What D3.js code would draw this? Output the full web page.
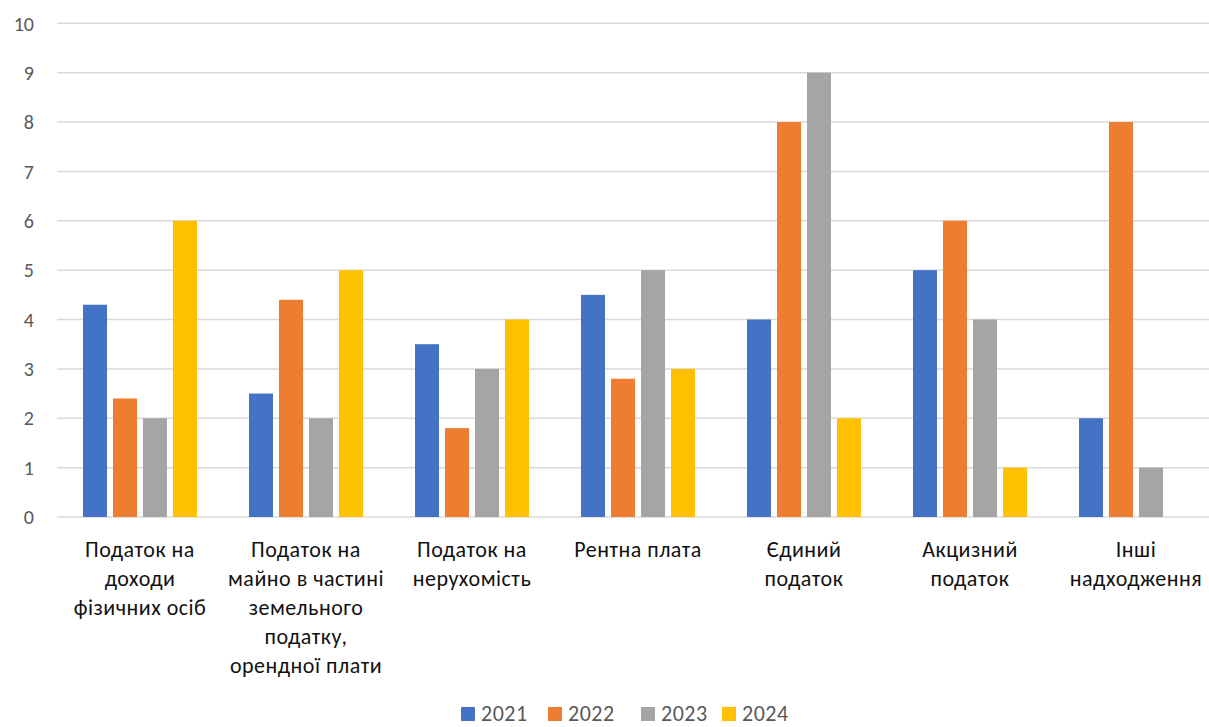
<!DOCTYPE html>
<html>
<head>
<meta charset="utf-8">
<script src="https://cdn.jsdelivr.net/npm/d3@7"></script>
<style>
  html, body { margin: 0; padding: 0; background: #fff; }
  svg { display: block; font-family: Carlito, Lato, "Liberation Sans", sans-serif; }
</style>
</head>
<body>
<svg id="chart" width="1209" height="727"></svg>
<script>
const categories = [
  "Податок на\nдоходи\nфізичних осіб",
  "Податок на\nмайно в частині\nземельного\nподатку,\nорендної плати",
  "Податок на\nнерухомість",
  "Рентна плата",
  "Єдиний\nподаток",
  "Акцизний\nподаток",
  "Інші\nнадходження"
];
const seriesNames = ["2021", "2022", "2023", "2024"];
const values2021 = [4.3, 2.5, 3.5, 4.5, 4, 5, 2];
const values2022 = [2.4, 4.4, 1.8, 2.8, 8, 6, 8];
const values2023 = [2, 2, 3, 5, 9, 4, 1];
const values2024 = [6, 5, 4, 3, 2, 1, 0];
const seriesValues = [values2021, values2022, values2023, values2024];
const colors = ["#4472C4", "#ED7D31", "#A5A5A5", "#FFC000"];
const yTicks = [0, 1, 2, 3, 4, 5, 6, 7, 8, 9, 10];

(function () {
const svg = d3.select("#chart");
const plotLeft = 57, plotRight = 1219, plotTop = 23.3, plotBottom = 517;

const x0 = d3.scaleBand().domain(d3.range(categories.length)).range([plotLeft, plotRight]).padding(0);
const x1 = d3.scaleBand().domain(seriesNames).range([26, 140]).paddingInner(0.2).paddingOuter(0);
const y = d3.scaleLinear().domain([0, 10]).range([plotBottom, plotTop]);

// gridlines
svg.append("g").selectAll("line").data(yTicks).join("line")
  .attr("x1", plotLeft).attr("x2", plotRight)
  .attr("y1", d => y(d)).attr("y2", d => y(d))
  .attr("stroke", "#D9D9D9").attr("stroke-width", 1.5);

// y tick labels
svg.append("g").selectAll("text").data(yTicks).join("text")
  .attr("x", 34).attr("y", d => y(d)).attr("dy", "0.36em")
  .attr("text-anchor", "end")
  .attr("fill", "#595959").attr("font-size", 20)
  .text(d => d);

// bars
const groups = svg.append("g").selectAll("g").data(categories).join("g")
  .attr("transform", (d, i) => `translate(${x0(i)},0)`);
groups.selectAll("rect")
  .data((d, i) => seriesNames.map((s, k) => ({ s, k, v: seriesValues[k][i] })))
  .join("rect")
  .attr("x", d => x1(d.s))
  .attr("width", x1.bandwidth())
  .attr("y", d => y(d.v))
  .attr("height", d => y(0) - y(d.v))
  .attr("fill", d => colors[d.k]);

// category labels
const lab = svg.append("g").selectAll("text").data(categories).join("text")
  .attr("text-anchor", "middle")
  .attr("fill", "#111").attr("font-size", 22)
  .attr("letter-spacing", 0.5)
  .attr("transform", (d, i) => `translate(${x0(i) + x0.bandwidth() / 2},557)`);
lab.selectAll("tspan").data(d => d.split("\n")).join("tspan")
  .attr("x", 0).attr("y", (d, j) => j * 29).text(d => d);

// legend
const legendX = [461, 548, 641, 722];
const lg = svg.append("g").selectAll("g").data(seriesNames).join("g")
  .attr("transform", (d, i) => `translate(${legendX[i]},0)`);
lg.append("rect").attr("x", 0).attr("y", 707).attr("width", 14).attr("height", 14)
  .attr("fill", (d, i) => colors[i]);
lg.append("text").attr("x", 20).attr("y", 721).attr("fill", "#595959").attr("font-size", 22)
  .attr("letter-spacing", 0.5).text(d => d);
})();
</script>
</body>
</html>
